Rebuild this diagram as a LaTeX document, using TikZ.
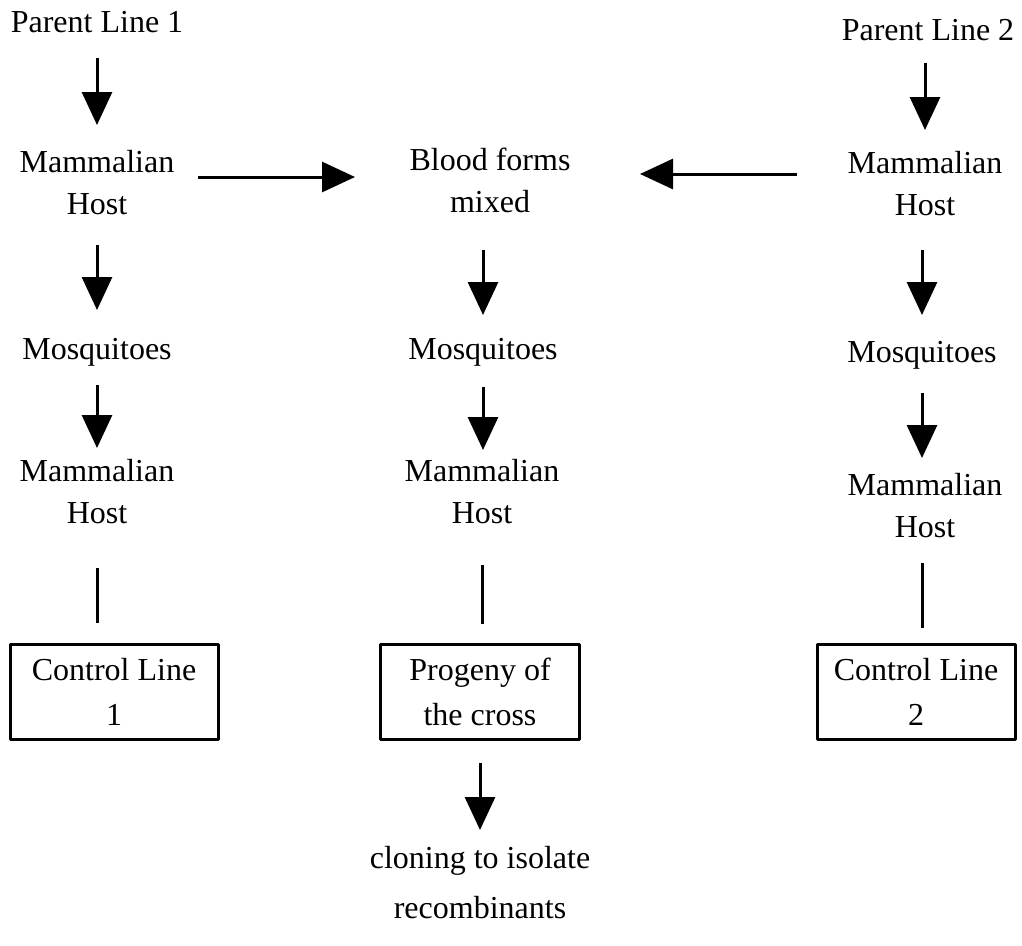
\documentclass[tikz,border=0pt]{standalone}
\usepackage{fontspec}
\setmainfont{Liberation Serif}
\usetikzlibrary{arrows.meta}
\begin{document}
\begin{tikzpicture}[x=1pt, y=-1pt, line width=3pt, line join=round,
		txt/.style={inner sep=0pt, align=center, font=\fontsize{32}{42}\selectfont},
		boxed/.style={txt, draw, minimum height=95pt},
		arr/.style={-{Triangle[length=33pt,width=30pt]}}]
	\useasboundingbox (0,0) rectangle (1022,945);
	% column 1
	\node[txt] (p1) at (97,22) {Parent Line 1};
	\node[txt] (h1) at (97,183) {Mammalian\\Host};
	\node[txt] (m1) at (97,352) {Mosquitoes};
	\node[txt] (hh1) at (97,492) {Mammalian\\Host};
	\node[boxed, minimum width=208pt, font=\fontsize{32}{45}\selectfont] (c1) at (114,692) {Control Line\\1};
	% column 2
	\node[txt] (bf) at (490,180) {Blood forms\\mixed};
	\node[txt] (m2) at (483,352) {Mosquitoes};
	\node[txt] (hh2) at (482,492) {Mammalian\\Host};
	\node[boxed, minimum width=199pt, font=\fontsize{32}{45}\selectfont] (pc) at (480,692) {Progeny of\\the cross};
	\node[txt, font=\fontsize{32}{50}\selectfont] (cl) at (480,883) {cloning to isolate\\recombinants};
	% column 3
	\node[txt] (p2) at (928,30) {Parent Line 2};
	\node[txt] (h2) at (925,184) {Mammalian\\Host};
	\node[txt] (m3) at (922,355) {Mosquitoes};
	\node[txt] (hh3) at (925,506) {Mammalian\\Host};
	\node[boxed, minimum width=198pt, font=\fontsize{32}{45}\selectfont] (c2) at (916,692) {Control Line\\2};
	% connectors
	\draw[arr, shorten <=36pt, shorten >=58pt] (p1.center) -- (h1.center);
	\draw[arr, shorten <=62pt, shorten >=42pt] (h1.center) -- (m1.center);
	\draw[arr, shorten <=33pt, shorten >=44pt] (m1.center) -- (hh1.center);
	\draw[shorten <=76pt, shorten >=20pt] (hh1.center) -- (hh1.center |- c1.north);
	\draw[arr, shorten <=101pt, shorten >=135pt] ([yshift=3pt]h1.center |- bf.center) -- ([yshift=3pt]bf.center);
	\draw[arr, shorten <=128pt, shorten >=150pt] ([yshift=6pt]h2.center |- bf.center) -- ([yshift=6pt]bf.center);
	\draw[arr, shorten <=70pt, shorten >=37pt] (m2.center |- bf.center) -- (m2.center);
	\draw[arr, shorten <=35pt, shorten >=42pt] (m2.center) -- (m2.center |- hh2.center);
	\draw[shorten <=73pt, shorten >=19pt] (hh2.center) -- (hh2.center |- pc.north);
	\draw[arr, shorten <=71pt, shorten >=53pt] (pc.center) -- (cl.center);
	\draw[arr, shorten <=33pt, shorten >=54pt] (p2.center -| h2.center) -- (h2.center);
	\draw[arr, shorten <=66pt, shorten >=40pt] (h2.center -| m3.center) -- (m3.center);
	\draw[arr, shorten <=38pt, shorten >=48pt] (m3.center) -- (m3.center |- hh3.center);
	\draw[shorten <=57pt, shorten >=15pt] (hh3.center -| m3.center) -- (m3.center |- c2.north);
\end{tikzpicture}
\end{document}
